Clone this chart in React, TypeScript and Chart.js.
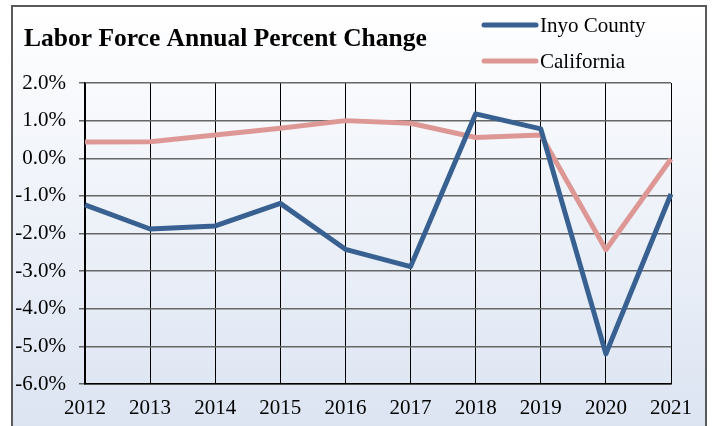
import React, { useEffect, useRef } from "react";
import { Chart, registerables } from "chart.js";

Chart.register(...registerables);

const years = ["2012", "2013", "2014", "2015", "2016", "2017", "2018", "2019", "2020", "2021"];
const inyoCounty = [-1.24, -1.88, -1.8, -1.2, -2.42, -2.88, 1.18, 0.78, -5.2, -0.95];
const california = [0.43, 0.44, 0.62, 0.8, 1.0, 0.93, 0.55, 0.62, -2.43, -0.02];
const titleText = "Labor Force Annual Percent Change";
const seriesNames = ["Inyo County", "California"];
const seriesColors = ["#386192", "#dd9896"];

const FONT = "'Liberation Serif', 'Times New Roman', serif";

const framePlugin = {
  id: "frame",
  beforeDraw(chart: any) {
    const ctx = chart.ctx;
    const w = chart.width;
    const h = chart.height;
    ctx.save();
    ctx.fillStyle = "#ffffff";
    ctx.fillRect(0, 0, w, h);
    const g = ctx.createLinearGradient(0, 6, 0, h);
    g.addColorStop(0, "#ffffff");
    g.addColorStop(1, "#dce4f2");
    ctx.fillStyle = g;
    ctx.fillRect(12, 6, 694, h);
    ctx.strokeStyle = "#5a5a5a";
    ctx.lineWidth = 2;
    ctx.strokeRect(12, 6, 694, h + 10);
    ctx.restore();
  },
  afterDraw(chart: any) {
    const ctx = chart.ctx;
    ctx.save();
    ctx.fillStyle = "#000000";
    ctx.font = `bold 25.5px ${FONT}`;
    ctx.textBaseline = "alphabetic";
    ctx.textAlign = "left";
    ctx.fillText(titleText, 24, 46);
    const ys = [25, 61];
    ctx.font = `21px ${FONT}`;
    ctx.textBaseline = "middle";
    seriesNames.forEach((name, i) => {
      ctx.strokeStyle = seriesColors[i];
      ctx.lineWidth = 5;
      ctx.lineCap = "round";
      ctx.beginPath();
      ctx.moveTo(484, ys[i]);
      ctx.lineTo(536, ys[i]);
      ctx.stroke();
      ctx.fillStyle = "#000000";
      ctx.fillText(name, 540, ys[i] + 1);
    });
    ctx.restore();
  },
};

export default function App() {
  const ref = useRef<HTMLCanvasElement | null>(null);
  useEffect(() => {
    document.body.style.margin = "0";
    if (!ref.current) return;
    const chart = new Chart(ref.current, {
      type: "line",
      data: {
        labels: years,
        datasets: [
          {
            label: seriesNames[0],
            data: inyoCounty,
            borderColor: seriesColors[0],
            backgroundColor: seriesColors[0],
            borderWidth: 5,
            pointRadius: 0,
            tension: 0,
            borderJoinStyle: "round",
          },
          {
            label: seriesNames[1],
            data: california,
            borderColor: seriesColors[1],
            backgroundColor: seriesColors[1],
            borderWidth: 5,
            pointRadius: 0,
            tension: 0,
            borderJoinStyle: "round",
          },
        ],
      },
      options: {
        responsive: false,
        animation: false,
        layout: { padding: { top: 83, right: 41, bottom: 0, left: 0 } },
        plugins: {
          legend: { display: false },
          title: { display: false },
          tooltip: { enabled: false },
        },
        scales: {
          x: {
            offset: false,
            afterFit: (s: any) => {
              s.height = 42;
            },
            grid: { color: "#000000", lineWidth: 1, drawTicks: false },
            border: { color: "#000000", width: 1.5 },
            ticks: {
              color: "#000000",
              font: { family: FONT, size: 21 },
              padding: 12,
              maxRotation: 0,
            },
          },
          y: {
            min: -6,
            max: 2,
            afterFit: (s: any) => {
              s.width = 85;
            },
            grid: {
              color: "#666666",
              lineWidth: 1.5,
              drawTicks: true,
              tickLength: 6,
              tickColor: "#666666",
            },
            border: { color: "#000000", width: 1.5 },
            ticks: {
              stepSize: 1,
              color: "#000000",
              font: { family: FONT, size: 21 },
              padding: 13,
              callback: (v: any) => Number(v).toFixed(1) + "%",
            },
          },
        },
      },
      plugins: [framePlugin],
    });
    return () => chart.destroy();
  }, []);
  return (
    <div style={{ width: 712, height: 426 }}>
      <canvas ref={ref} width={712} height={426} />
    </div>
  );
}
